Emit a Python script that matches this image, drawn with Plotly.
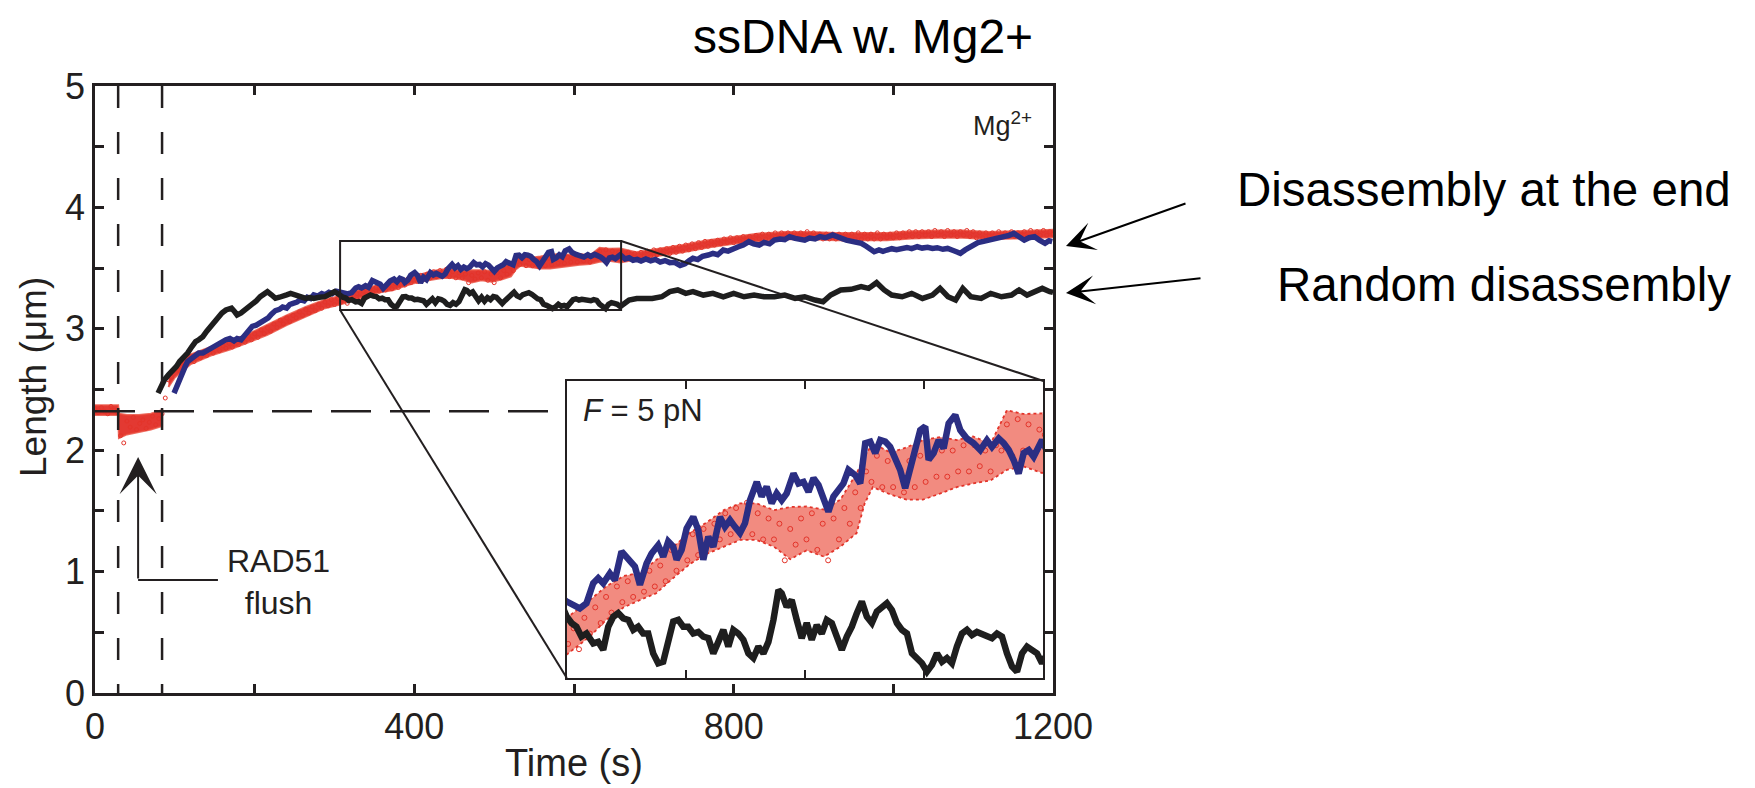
import plotly.graph_objects as go

# ---------------- data ----------------
# black trace: "Random disassembly"
black_t = [79, 83, 87, 92, 97, 102, 106, 111, 116, 121, 126, 130, 135, 140, 145, 150, 154, 159, 164, 168,
           171, 175, 178, 183, 188, 192, 197, 202, 207, 212, 216, 221, 226, 231, 236, 240, 245, 250, 255, 260,
           264, 269, 274, 281, 288, 294, 300, 304,
           307, 310.5, 314.1, 317.8, 321.5, 326.5, 330.2, 333.9, 337.6, 341.3, 345, 348.7, 352.4, 356.1, 359.7,
           363.4, 367.1, 370.8, 374.5, 378.2, 381.9, 385.6, 389.3, 393, 396.7, 400.4, 404.1, 407.8, 411.5, 415.2,
           418.9, 422.6, 426.3, 430, 433.7, 437.4, 441.1, 444.8, 448.5, 452.2, 455.9, 459.6, 463.3, 465.7, 469.4,
           473.1, 476.8, 480.5, 484.2, 487.9, 491.6, 495.3, 499, 502.7, 506.4, 510.1, 513.8, 517.5, 521.2, 524.9,
           528.6, 532.3, 536, 539.7, 543.4, 547.1, 550.8, 554.5, 558.2, 561.9, 565.6, 569.3, 573, 576.7, 580.4,
           584.1, 587.7, 591.4, 595.1, 598.8, 602.5, 606.2, 609.9, 613.6, 617.3, 621, 624.7, 628.4, 632.1, 635.8,
           639.5, 643.2, 646.9, 650.6, 654.3, 658,
           669, 678.6, 698, 710, 720, 730, 740, 749, 762, 774, 787, 800, 813, 825.6, 838, 851, 864, 877, 889, 902,
           912, 921.5, 934, 947, 959.6, 969, 979, 988.5, 998, 1011, 1023, 1036.5, 1049, 1058.5, 1068.5, 1078,
           1087, 1097, 1110, 1122, 1135.5, 1148, 1157.5, 1167.5, 1177, 1186.6, 1196, 1200]
black_y = [2.47, 2.54, 2.58, 2.62, 2.65, 2.69, 2.73, 2.76, 2.80, 2.85, 2.894, 2.91, 2.935, 2.98, 3.017, 3.06,
           3.10, 3.13, 3.155, 3.16, 3.17, 3.14, 3.114, 3.13, 3.155, 3.17, 3.196, 3.23, 3.265, 3.29, 3.306, 3.28,
           3.251, 3.26, 3.265, 3.28, 3.292, 3.28, 3.265, 3.255, 3.251, 3.258, 3.251, 3.26, 3.265, 3.285, 3.306, 3.29,
           3.272, 3.260, 3.253, 3.234, 3.240, 3.221, 3.224, 3.209, 3.253, 3.272, 3.279, 3.269, 3.266, 3.247, 3.253,
           3.240, 3.240, 3.202, 3.183, 3.186, 3.228, 3.263, 3.266, 3.253, 3.253, 3.240, 3.243, 3.234, 3.231, 3.202,
           3.224, 3.247, 3.215, 3.247, 3.240, 3.228, 3.202, 3.193, 3.215, 3.202, 3.224, 3.266, 3.323, 3.317, 3.291,
           3.304, 3.266, 3.231, 3.260, 3.228, 3.256, 3.240, 3.266, 3.260, 3.234, 3.209, 3.234, 3.253, 3.279, 3.301,
           3.272, 3.260, 3.282, 3.291, 3.298, 3.285, 3.260, 3.247, 3.240, 3.202, 3.193, 3.183, 3.167, 3.180, 3.202,
           3.186, 3.193, 3.183, 3.215, 3.240, 3.247, 3.237, 3.243, 3.240, 3.234, 3.231, 3.240, 3.234, 3.202, 3.177,
           3.167, 3.202, 3.215, 3.209, 3.202, 3.183,
           3.237, 3.25, 3.25, 3.264, 3.306, 3.32, 3.292, 3.306, 3.278, 3.292, 3.264, 3.292, 3.264, 3.278, 3.264,
           3.264, 3.278, 3.251, 3.264, 3.237, 3.223, 3.278, 3.32, 3.325, 3.347, 3.333, 3.38, 3.32, 3.278, 3.264,
           3.292, 3.25, 3.278, 3.333, 3.264, 3.237, 3.333, 3.264, 3.25, 3.292, 3.264, 3.278, 3.32, 3.278, 3.306,
           3.333, 3.306, 3.30]

# blue trace: "Disassembly at the end"
blue_t = [99, 103, 106, 110, 113, 116, 120, 125, 130, 135, 140, 145, 150, 155, 159, 164, 169, 174, 178, 183,
          188, 192, 197, 202, 207, 212, 217, 221, 226, 231, 235, 240, 244, 248, 253, 257, 262, 266, 270, 274,
          279, 284, 288, 293, 297, 302,
          307, 311.7, 316.6, 321.5, 326.5, 330.2, 333.9, 338.8, 342.5, 347.4, 353.6, 357.3, 361, 365.9, 369.6,
          374.5, 378.2, 381.9, 385.6, 388.1, 391.8, 395.5, 400.4, 404.1, 407.8, 411.5, 415.2, 420.1, 423.8, 427.5,
          431.2, 434.9, 438.6, 442.3, 447.3, 450.9, 454.6, 458.3, 462, 465.7, 469.4, 474.4, 478.1, 481.8, 485.5,
          489.2, 492.9, 496.5, 500.2, 503.9, 507.6, 511.3, 515, 520, 523.7, 527.4, 531.1, 534.8, 538.5, 542.2,
          545.8, 549.5, 553.2, 556.9, 560.6, 564.3, 568, 571.7, 574.2, 577.9, 581.6, 585.3, 589, 593.9, 597.6,
          602.5, 607.5, 612.4, 617.3, 621, 626, 629.7, 633.4, 637, 640.7, 644.4, 648.1, 651.8, 655.5, 658,
          664, 669, 674, 679, 684, 690, 696, 702, 708, 714, 720, 726, 733, 739, 744, 749, 755, 761, 768, 774,
          780, 787, 793, 800, 806, 812, 819, 825, 832, 838, 845, 851, 858, 864, 870, 877, 883, 889, 895, 902,
          908, 915, 924, 930, 936, 941, 948, 954, 960, 966, 971, 976, 982, 987, 992, 998, 1004, 1011, 1017, 1023,
          1030, 1036, 1043, 1049, 1055, 1062, 1068, 1075, 1080, 1084, 1090, 1095, 1100, 1106, 1113, 1120, 1126,
          1132, 1139, 1145, 1151, 1157, 1164, 1170, 1177, 1183, 1190, 1195, 1199]
blue_y = [2.47, 2.54, 2.58, 2.64, 2.69, 2.73, 2.75, 2.78, 2.80, 2.80, 2.82, 2.83, 2.85, 2.87, 2.89, 2.91, 2.92,
          2.90, 2.92, 2.91, 2.95, 2.98, 3.02, 3.03, 3.05, 3.06, 3.09, 3.12, 3.15, 3.16, 3.18, 3.17, 3.20, 3.21,
          3.22, 3.24, 3.23, 3.26, 3.25, 3.28, 3.27, 3.29, 3.28, 3.30, 3.29, 3.31,
          3.301, 3.295, 3.288, 3.298, 3.336, 3.346, 3.336, 3.355, 3.342, 3.397, 3.381, 3.368, 3.333, 3.374, 3.393,
          3.409, 3.387, 3.416, 3.406, 3.381, 3.400, 3.441, 3.463, 3.438, 3.381, 3.425, 3.406, 3.463, 3.444, 3.457,
          3.444, 3.432, 3.451, 3.495, 3.530, 3.502, 3.521, 3.489, 3.508, 3.495, 3.508, 3.546, 3.527, 3.530, 3.511,
          3.537, 3.524, 3.495, 3.473, 3.502, 3.514, 3.527, 3.553, 3.543, 3.527, 3.604, 3.607, 3.585, 3.610, 3.607,
          3.597, 3.572, 3.553, 3.518, 3.553, 3.591, 3.629, 3.636, 3.572, 3.585, 3.610, 3.594, 3.642, 3.658, 3.629,
          3.613, 3.604, 3.591, 3.610, 3.597, 3.613, 3.604, 3.591, 3.572, 3.546, 3.585, 3.591, 3.578, 3.597, 3.610,
          3.575, 3.585, 3.565, 3.572, 3.558, 3.575, 3.56, 3.572, 3.55, 3.562, 3.545, 3.548, 3.522, 3.535, 3.56,
          3.581, 3.57, 3.598, 3.608, 3.622, 3.61, 3.649, 3.64, 3.665, 3.676, 3.69, 3.718, 3.70, 3.69, 3.712, 3.70,
          3.73, 3.74, 3.735, 3.759, 3.745, 3.74, 3.73, 3.748, 3.74, 3.759, 3.75, 3.773, 3.755, 3.745, 3.73, 3.72,
          3.715, 3.704, 3.68, 3.66, 3.635, 3.65, 3.638, 3.649, 3.66, 3.652, 3.662, 3.67, 3.66, 3.676, 3.665, 3.672,
          3.662, 3.668, 3.655, 3.662, 3.645, 3.63, 3.622, 3.65, 3.67, 3.69, 3.71, 3.72, 3.73, 3.742, 3.75, 3.759,
          3.77, 3.786, 3.76, 3.73, 3.75, 3.759, 3.73, 3.704, 3.725, 3.718]

# red scatter, sampled every 4 s in four runs (start times 0, 88, 308, 660)
RED_STEP = 4
red_pre_start, red_rise_start, red_zoom_start, red_late_start = 0, 88, 308, 660
red_pre_y = [2.34, 2.31, 2.35, 2.32, 2.30, 2.36, 2.33, 2.31, 2.12, 2.06, 2.24, 2.19, 2.27, 2.17, 2.22, 2.25,
             2.18, 2.23, 2.28, 2.21, 2.26, 2.30]
red_rise_y = [2.43, 2.58, 2.60, 2.66, 2.66, 2.72, 2.70, 2.74, 2.77, 2.73, 2.79, 2.76, 2.81, 2.78, 2.83, 2.80,
              2.85, 2.82, 2.86, 2.84, 2.88, 2.85, 2.90, 2.87, 2.92, 2.89, 2.94, 2.91, 2.96, 2.93, 2.99, 2.96,
              3.01, 2.98, 3.04, 3.01, 3.07, 3.04, 3.09, 3.06, 3.11, 3.09, 3.14, 3.11, 3.16, 3.13, 3.18, 3.15,
              3.20, 3.17, 3.22, 3.19, 3.24, 3.20, 3.25]
red_zoom_y = [3.22, 3.25, 3.21, 3.27, 3.24, 3.29, 3.26, 3.31, 3.28, 3.33, 3.30, 3.34, 3.31, 3.35, 3.32, 3.36,
              3.33, 3.37, 3.34, 3.40, 3.36, 3.41, 3.38, 3.43, 3.39, 3.44, 3.41, 3.45, 3.42, 3.47, 3.43, 3.48,
              3.44, 3.49, 3.43, 3.47, 3.42, 3.46, 3.42, 3.45, 3.38, 3.44, 3.41, 3.46, 3.42, 3.47, 3.40, 3.45,
              3.38, 3.46, 3.42, 3.48, 3.45, 3.51, 3.48, 3.55, 3.53, 3.58, 3.52, 3.57, 3.52, 3.56, 3.51, 3.57,
              3.52, 3.58, 3.53, 3.58, 3.54, 3.59, 3.54, 3.59, 3.55, 3.60, 3.55, 3.60, 3.56, 3.59, 3.55, 3.60,
              3.59, 3.64, 3.58, 3.65, 3.59, 3.64, 3.58, 3.63]
red_late_y = [3.62, 3.58, 3.63, 3.59, 3.62, 3.58, 3.63, 3.60, 3.64, 3.60, 3.65, 3.61, 3.65, 3.62, 3.66, 3.62,
              3.67, 3.63, 3.68, 3.64, 3.69, 3.65, 3.70, 3.66, 3.71, 3.67, 3.72, 3.68, 3.72, 3.69, 3.73, 3.70,
              3.74, 3.71, 3.75, 3.71, 3.75, 3.72, 3.76, 3.73, 3.76, 3.73, 3.77, 3.74, 3.78, 3.74, 3.78, 3.75,
              3.79, 3.75, 3.79, 3.75, 3.79, 3.76, 3.79, 3.75, 3.79, 3.76, 3.80, 3.75, 3.79, 3.75, 3.78, 3.74,
              3.78, 3.74, 3.78, 3.74, 3.78, 3.74, 3.78, 3.74, 3.78, 3.74, 3.79, 3.74, 3.78, 3.74, 3.78, 3.74,
              3.79, 3.74, 3.78, 3.75, 3.78, 3.75, 3.79, 3.75, 3.79, 3.76, 3.80, 3.76, 3.80, 3.76, 3.80, 3.77,
              3.80, 3.76, 3.81, 3.77, 3.80, 3.76, 3.81, 3.77, 3.80, 3.76, 3.80, 3.77, 3.81, 3.76, 3.80, 3.75,
              3.79, 3.75, 3.79, 3.76, 3.79, 3.75, 3.80, 3.76, 3.79, 3.76, 3.80, 3.76, 3.79, 3.77, 3.80, 3.76,
              3.81, 3.77, 3.80, 3.77, 3.81, 3.77, 3.80, 3.78]

# envelope of the dense red cloud
red_band_pre_t = [0, 29, 30, 40, 55, 70, 84]
red_band_pre_lo = [2.29, 2.29, 2.10, 2.13, 2.15, 2.17, 2.20]
red_band_pre_hi = [2.37, 2.37, 2.30, 2.29, 2.29, 2.30, 2.33]
red_band_t = [92, 100, 120, 145, 169, 193, 216, 240, 264, 288, 307, 324, 336, 349, 361, 373, 386, 398, 410, 423,
              435, 447, 460, 472, 484, 497, 509, 521, 527, 533, 546, 558, 570, 583, 595, 607, 620, 632, 644, 658,
              678, 704, 736, 768, 800, 832, 864, 896, 928, 960, 992, 1023, 1056, 1087, 1120, 1151, 1183, 1200]
red_band_lo = [2.52, 2.60, 2.71, 2.78, 2.83, 2.89, 2.95, 3.03, 3.10, 3.17, 3.20, 3.234, 3.266, 3.290, 3.304,
               3.317, 3.347, 3.373, 3.392, 3.406, 3.419, 3.419, 3.406, 3.382, 3.399, 3.387, 3.406, 3.432, 3.489,
               3.520, 3.506, 3.496, 3.496, 3.508, 3.520, 3.527, 3.533, 3.553, 3.560, 3.547, 3.57, 3.60, 3.63,
               3.67, 3.70, 3.724, 3.738, 3.738, 3.73, 3.73, 3.73, 3.743, 3.75, 3.75, 3.738, 3.743, 3.75, 3.755]
red_band_hi = [2.62, 2.69, 2.79, 2.85, 2.90, 2.96, 3.03, 3.11, 3.18, 3.24, 3.27, 3.304, 3.330, 3.350, 3.356,
               3.381, 3.407, 3.433, 3.452, 3.476, 3.489, 3.489, 3.476, 3.482, 3.483, 3.477, 3.496, 3.546, 3.579,
               3.604, 3.586, 3.596, 3.610, 3.616, 3.610, 3.617, 3.603, 3.667, 3.660, 3.661, 3.63, 3.66, 3.69,
               3.73, 3.76, 3.784, 3.798, 3.798, 3.79, 3.79, 3.79, 3.803, 3.81, 3.81, 3.798, 3.803, 3.81, 3.815]

# axes
x_tickvals = [0, 200, 400, 600, 800, 1000, 1200]
x_ticktext = ["0", "", "400", "", "800", "", "1200"]
y_tickvals = [0, 0.5, 1, 1.5, 2, 2.5, 3, 3.5, 4, 4.5, 5]
y_ticktext = ["0", "", "1", "", "2", "", "3", "", "4", "", "5"]

# events / annotation anchors (data units)
FLUSH_START, FLUSH_END = 29, 84
BASELINE_LEN = 2.32
FLUSH_ARROW_T, FLUSH_ARROW_TIP, FLUSH_ARROW_BASE, FLUSH_ARROW_END_T = 54, 1.944, 0.931, 154
ZOOM_T = (307, 659)
ZOOM_Y = (3.155, 3.723)
INSET_T = (591, 1188)
INSET_Y = (0.124, 2.57)

# ---------------- figure ----------------
X_RANGE = [0, 1200]
Y_RANGE = [0, 5]
W, H = 1755, 788
ML, MR, MT, MB = 95, 702, 86, 95
PW, PH = W - ML - MR, H - MT - MB

FONT = "Arial, Liberation Sans, sans-serif"
INK = "#231f20"
RED = "#e3342a"
BLUE = "#2b2e83"
BLACK = "#1e1e1e"


def seg_times(start, n):
    return [start + RED_STEP * i for i in range(n)]


red_t = (seg_times(red_pre_start, len(red_pre_y)) + seg_times(red_rise_start, len(red_rise_y))
         + seg_times(red_zoom_start, len(red_zoom_y)) + seg_times(red_late_start, len(red_late_y)))
red_y = red_pre_y + red_rise_y + red_zoom_y + red_late_y


def band(t, lo, hi):
    return list(t) + list(t)[::-1], list(lo) + list(hi)[::-1]


bx1, by1 = band(red_band_pre_t, red_band_pre_lo, red_band_pre_hi)
bx2, by2 = band(red_band_t, red_band_lo, red_band_hi)
band_x = bx1 + [None] + bx2
band_y = by1 + [None] + by2

nb = min(len(blue_t), len(blue_y))
nk = min(len(black_t), len(black_y))

fig = go.Figure()
panels = [
    dict(xa="x", ya="y", fill="rgba(224,35,28,0.9)", edge=dict(color="rgba(232,70,55,0.8)", width=2),
         msize=4, mline=1, lw=5.5),
    dict(xa="x2", ya="y2", fill="rgba(234,68,50,0.62)", edge=dict(color=RED, width=1.8, dash="dot"),
         msize=5, mline=1, lw=6.5),
]
for p in panels:
    fig.add_trace(go.Scatter(x=band_x, y=band_y, fill="toself", fillcolor=p["fill"], mode="lines",
                             line=p["edge"], xaxis=p["xa"], yaxis=p["ya"], hoverinfo="skip", showlegend=False))
    fig.add_trace(go.Scatter(x=red_t, y=red_y, mode="markers", xaxis=p["xa"], yaxis=p["ya"], showlegend=False,
                             marker=dict(symbol="circle-open", size=p["msize"], color=RED,
                                         line=dict(width=p["mline"]))))
    fig.add_trace(go.Scatter(x=blue_t[:nb], y=blue_y[:nb], mode="lines", xaxis=p["xa"], yaxis=p["ya"],
                             showlegend=False, line=dict(color=BLUE, width=p["lw"])))
    fig.add_trace(go.Scatter(x=black_t[:nk], y=black_y[:nk], mode="lines", xaxis=p["xa"], yaxis=p["ya"],
                             showlegend=False, line=dict(color=BLACK, width=p["lw"])))

inset_dom_x = [(INSET_T[0] - X_RANGE[0]) / (X_RANGE[1] - X_RANGE[0]),
               (INSET_T[1] - X_RANGE[0]) / (X_RANGE[1] - X_RANGE[0])]
inset_dom_y = [(INSET_Y[0] - Y_RANGE[0]) / (Y_RANGE[1] - Y_RANGE[0]),
               (INSET_Y[1] - Y_RANGE[0]) / (Y_RANGE[1] - Y_RANGE[0])]
q = (ZOOM_T[1] - ZOOM_T[0]) / 4.0
inset_ticks = [ZOOM_T[0] + q, ZOOM_T[0] + 2 * q, ZOOM_T[0] + 3 * q]

axis_common = dict(showgrid=False, zeroline=False, showline=True, linecolor=INK, ticks="inside",
                   tickcolor=INK, mirror="allticks")

fig.update_layout(
    width=W, height=H, autosize=False,
    margin=dict(l=ML, r=MR, t=MT, b=MB, pad=0),
    paper_bgcolor="white", plot_bgcolor="white",
    font=dict(family=FONT, color=INK),
    xaxis=dict(range=X_RANGE, domain=[0, 1], tickvals=x_tickvals, ticktext=x_ticktext, ticklen=9,
               tickwidth=2.5, linewidth=2.5, tickfont=dict(size=36, color=INK), anchor="y", **axis_common),
    yaxis=dict(range=Y_RANGE, domain=[0, 1], tickvals=y_tickvals, ticktext=y_ticktext, ticklen=9,
               tickwidth=2.5, linewidth=2.5, tickfont=dict(size=36, color=INK), anchor="x", **axis_common),
    xaxis2=dict(range=list(ZOOM_T), domain=inset_dom_x, anchor="y2", tickvals=inset_ticks, ticklen=8,
                tickwidth=2, linewidth=2, showticklabels=False, **axis_common),
    yaxis2=dict(range=list(ZOOM_Y), domain=inset_dom_y, anchor="x2", showgrid=False, zeroline=False,
                showline=True, linecolor=INK, linewidth=2, mirror=True, ticks="", showticklabels=False),
)

shapes = [
    dict(type="line", xref="x", yref="y", x0=FLUSH_START, x1=FLUSH_START, y0=Y_RANGE[1], y1=Y_RANGE[0],
         line=dict(color=INK, width=2.5, dash="22px,24px")),
    dict(type="line", xref="x", yref="y", x0=FLUSH_END, x1=FLUSH_END, y0=Y_RANGE[1], y1=Y_RANGE[0],
         line=dict(color=INK, width=2.5, dash="22px,24px")),
    dict(type="line", xref="x", yref="y", x0=X_RANGE[0], x1=INSET_T[0], y0=BASELINE_LEN, y1=BASELINE_LEN,
         line=dict(color=INK, width=2.5, dash="40px,19px")),
    dict(type="rect", xref="x", yref="y", x0=ZOOM_T[0], x1=ZOOM_T[1], y0=ZOOM_Y[0], y1=ZOOM_Y[1],
         line=dict(color=INK, width=2)),
    dict(type="line", xref="x", yref="y", x0=ZOOM_T[1], y0=ZOOM_Y[1], x1=INSET_T[1], y1=INSET_Y[1],
         line=dict(color=INK, width=2)),
    dict(type="line", xref="x", yref="y", x0=ZOOM_T[0], y0=ZOOM_Y[0], x1=INSET_T[0], y1=INSET_Y[0],
         line=dict(color=INK, width=2)),
    dict(type="line", xref="x", yref="y", x0=FLUSH_ARROW_T, x1=FLUSH_ARROW_END_T, y0=FLUSH_ARROW_BASE,
         y1=FLUSH_ARROW_BASE, line=dict(color=INK, width=2)),
]
fig.update_layout(shapes=shapes)


def px_to_paper(X, Y):
    return (X - ML) / PW, (H - MB - Y) / PH


annotations = []


def text_at(X, Y, text, size, xanchor="center", color=INK, textangle=0):
    x, y = px_to_paper(X, Y)
    annotations.append(dict(x=x, y=y, xref="paper", yref="paper", text=text, showarrow=False,
                            xanchor=xanchor, yanchor="middle", textangle=textangle,
                            font=dict(size=size, color=color, family=FONT)))


text_at(863, 36, "ssDNA w. Mg2+", 48, color="black")
text_at(1034, 124, "Mg<sup>2+</sup>", 27, xanchor="right")
text_at(581, 411, "<i>F</i> = 5 pN", 31, xanchor="left")
text_at(278, 582, "RAD51<br>flush", 32)
text_at(574, 763, "Time (s)", 38)
text_at(33, 377, "Length (μm)", 37, textangle=-90)
text_at(1733, 190, "Disassembly at the end", 47.5, xanchor="right", color="black")
text_at(1733, 284, "Random disassembly", 47.5, xanchor="right", color="black")

# arrows
for tip, tail in [((1066, 246), (1187, 203)), ((1066, 293), (1202, 278))]:
    x, y = px_to_paper(*tip)
    annotations.append(dict(x=x, y=y, xref="paper", yref="paper", text="", showarrow=True,
                            ax=tail[0] - tip[0], ay=tail[1] - tip[1], axref="pixel", ayref="pixel",
                            arrowhead=3, arrowsize=2.4, arrowwidth=2, arrowcolor="black", standoff=0))
annotations.append(dict(x=FLUSH_ARROW_T, y=FLUSH_ARROW_TIP, xref="x", yref="y", text="", showarrow=True,
                        ax=FLUSH_ARROW_T, ay=FLUSH_ARROW_BASE, axref="x", ayref="y",
                        arrowhead=3, arrowsize=3.1, arrowwidth=2, arrowcolor=INK, standoff=0))
fig.update_layout(annotations=annotations)

fig.write_html("out.html")
